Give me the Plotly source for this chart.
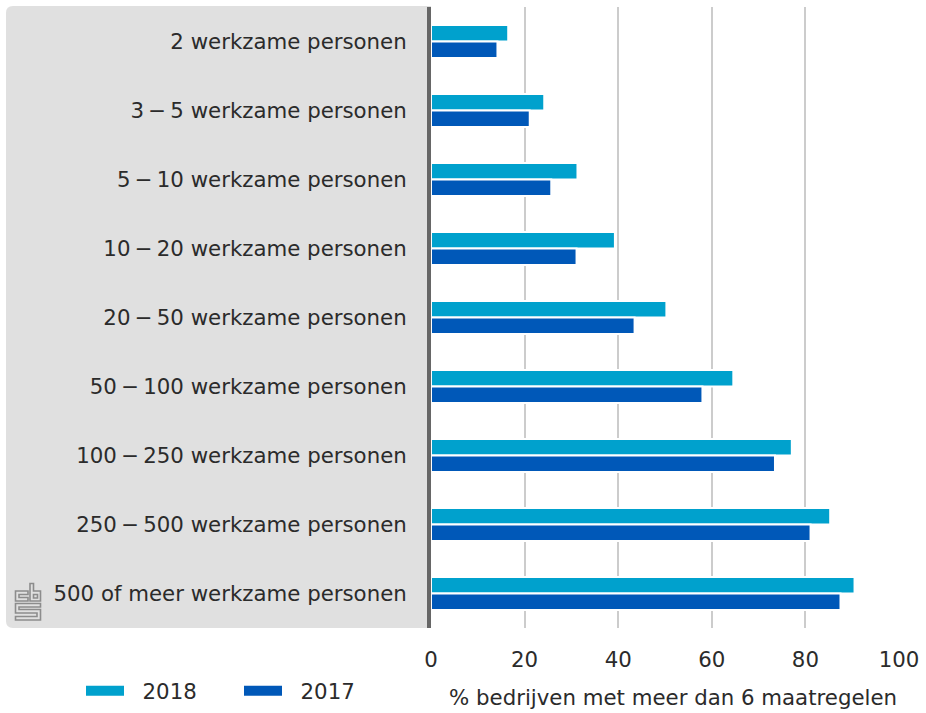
import plotly.graph_objects as go

DASH = "\u2009\u2212\u2009"
categories = [
    "2 werkzame personen",
    "3" + DASH + "5 werkzame personen",
    "5" + DASH + "10 werkzame personen",
    "10" + DASH + "20 werkzame personen",
    "20" + DASH + "50 werkzame personen",
    "50" + DASH + "100 werkzame personen",
    "100" + DASH + "250 werkzame personen",
    "250" + DASH + "500 werkzame personen",
    "500 of meer werkzame personen",
]
values_2018 = [16.5, 24.2, 31.3, 39.3, 50.3, 64.6, 77.1, 85.3, 90.5]
values_2017 = [14.2, 21.1, 25.7, 31.1, 43.5, 58.0, 73.5, 81.1, 87.5]
x_ticks = [0, 20, 40, 60, 80, 100]
x_title = "% bedrijven met meer dan 6 maatregelen"
series_names = ["2018", "2017"]

C2018 = "#00a1cd"
C2017 = "#0058b8"
TEXT = "#2b2b2b"
FONT = "DejaVu Sans"
FS = 21.3

W, H = 926, 713
L, R, T, B = 431, 27, 7, 85
PW, PH = W - L - R, H - T - B


def px(x):
    return (x - L) / PW


def py(y):
    return (H - B - y) / PH


fig = go.Figure()
fig.add_trace(go.Bar(y=categories, x=values_2018, name=series_names[0], orientation="h",
                     marker=dict(color=C2018, line=dict(color="white", width=2)),
                     showlegend=False))
fig.add_trace(go.Bar(y=categories, x=values_2017, name=series_names[1], orientation="h",
                     marker=dict(color=C2017, line=dict(color="white", width=2)),
                     showlegend=False))
# legend entries (wide swatches like the original)
for name, col in [(series_names[0], C2018), (series_names[1], C2017)]:
    fig.add_trace(go.Scatter(x=[None], y=[None], mode="lines",
                             name="\u00a0\u00a0" + name, legendgroup=name,
                             line=dict(color=col, width=11), showlegend=True))

shapes = []
# grey panel with rounded left corners
r = 7
x0, x1, y0, y1 = 6, 431, 6, 628
path = (f"M {px(x1)},{py(y0)} L {px(x0 + r)},{py(y0)} "
        f"Q {px(x0)},{py(y0)} {px(x0)},{py(y0 + r)} "
        f"L {px(x0)},{py(y1 - r)} Q {px(x0)},{py(y1)} {px(x0 + r)},{py(y1)} "
        f"L {px(x1)},{py(y1)} Z")
shapes.append(dict(type="path", xref="paper", yref="paper", path=path,
                   fillcolor="#e0e0e0", line=dict(width=0), layer="below"))


def poly(points):
    s = "M " + " L ".join(f"{px(a)},{py(b)}" for a, b in points) + " Z"
    return dict(type="path", xref="paper", yref="paper", path=s,
                fillcolor="rgba(0,0,0,0)", line=dict(color="#8c8c8c", width=1.6),
                layer="above")


# cbs logo
shapes.append(poly([(28, 591), (15.5, 591), (15.5, 601), (28, 601), (28, 597.5), (19, 597.5), (19, 594.5), (28, 594.5)]))
shapes.append(poly([(30, 583.5), (30, 601), (40.5, 601), (40.5, 591), (33.5, 591), (33.5, 583.5)]))
shapes.append(poly([(33.5, 594.5), (37.5, 594.5), (37.5, 598), (33.5, 598)]))
shapes.append(poly([(40.5, 603.5), (15.5, 603.5), (15.5, 613), (37, 613), (37, 616.5), (15.5, 616.5),
                    (15.5, 620), (40.5, 620), (40.5, 609.5), (19, 609.5), (19, 607), (40.5, 607)]))

fig.update_layout(
    width=W, height=H,
    margin=dict(l=L, r=R, t=T, b=B, pad=0, autoexpand=False),
    paper_bgcolor="white", plot_bgcolor="white",
    font=dict(family=FONT, size=FS, color=TEXT),
    barmode="group", bargap=0.52, bargroupgap=0.0,
    shapes=shapes,
    showlegend=True,
    legend=dict(orientation="h", x=px(81), xanchor="left", y=py(691), yanchor="middle",
                itemwidth=38, entrywidth=105, font=dict(size=FS, color=TEXT),
                bgcolor="rgba(0,0,0,0)", itemclick=False, itemdoubleclick=False),
    xaxis=dict(range=[0, 100], tickvals=x_ticks, showgrid=True, gridcolor="#cccccc",
               gridwidth=2, zeroline=False, showline=False, ticks="",
               ticklabelstandoff=17, tickfont=dict(size=FS, color=TEXT), fixedrange=True),
    yaxis=dict(autorange="reversed", showgrid=False, zeroline=False, showline=True,
               linecolor="#666666", linewidth=4, ticks="", ticklabelstandoff=16,
               tickfont=dict(size=FS, color=TEXT), fixedrange=True),
    annotations=[dict(text=x_title, xref="paper", yref="paper", x=1.0, y=py(697.5),
                      xanchor="right", yanchor="middle", showarrow=False,
                      font=dict(size=FS, color=TEXT))],
)

fig.write_html("out.html", config={"displayModeBar": False},
               post_script="document.body.style.margin='0';")
